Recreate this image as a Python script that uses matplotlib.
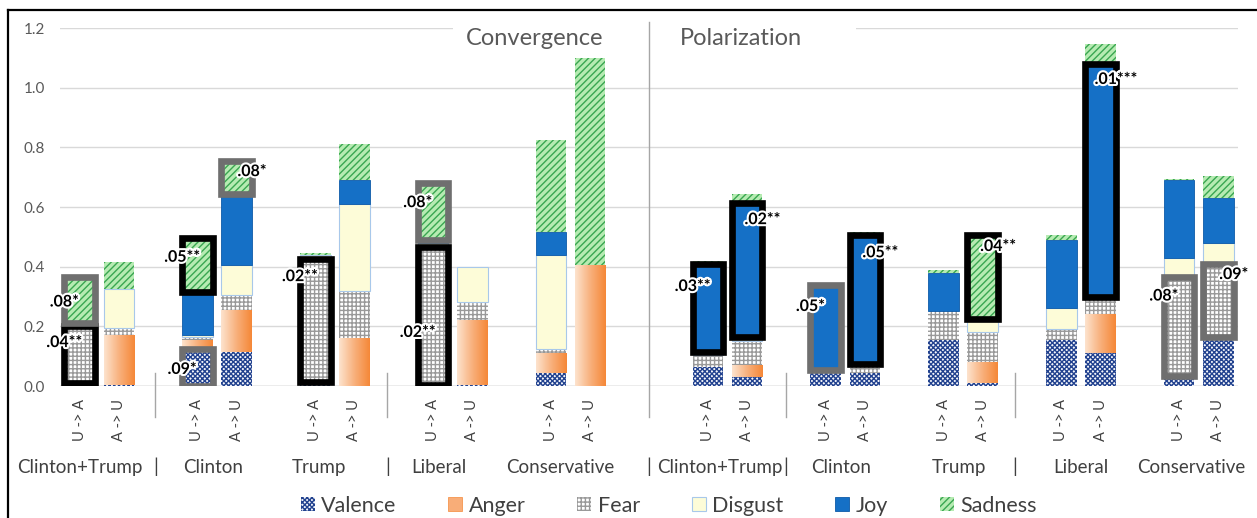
import matplotlib
matplotlib.use('Agg')
import matplotlib.pyplot as plt
import matplotlib.patheffects as pe
from matplotlib.patches import Rectangle, Patch
from matplotlib.lines import Line2D
from matplotlib.colors import LinearSegmentedColormap
import numpy as np

plt.rcParams['font.family'] = ['Lato', 'DejaVu Sans']
plt.rcParams['hatch.linewidth'] = 1.0

emotions = ['Valence', 'Anger', 'Fear', 'Disgust', 'Joy', 'Sadness']
groups = ['Clinton+Trump', 'Clinton', 'Trump', 'Liberal', 'Conservative',
          'Clinton+Trump', 'Clinton', 'Trump', 'Liberal', 'Conservative']
directions = ['U -> A', 'A -> U']
sections = ['Convergence', 'Polarization']

# segment heights per bar (U->A, A->U for each group; 10 convergence then 10 polarization)
valence = [0.010, 0.005, 0.125, 0.115, 0.010, 0.000, 0.005, 0.005, 0.045, 0.000,
           0.065, 0.030, 0.055, 0.045, 0.155, 0.010, 0.155, 0.110, 0.035, 0.165]
anger = [0.000, 0.165, 0.030, 0.140, 0.005, 0.160, 0.000, 0.215, 0.065, 0.405,
         0.000, 0.040, 0.000, 0.000, 0.000, 0.070, 0.000, 0.130, 0.000, 0.000]
fear = [0.190, 0.025, 0.010, 0.050, 0.410, 0.160, 0.460, 0.060, 0.015, 0.000,
        0.040, 0.080, 0.000, 0.025, 0.095, 0.100, 0.035, 0.060, 0.330, 0.245]
disgust = [0.005, 0.130, 0.005, 0.100, 0.015, 0.290, 0.015, 0.120, 0.315, 0.000,
           0.010, 0.015, 0.000, 0.005, 0.000, 0.045, 0.070, 0.000, 0.065, 0.070]
joy = [0.005, 0.000, 0.145, 0.240, 0.000, 0.080, 0.010, 0.000, 0.075, 0.000,
       0.295, 0.450, 0.285, 0.430, 0.130, 0.000, 0.230, 0.780, 0.260, 0.150]
sadness = [0.155, 0.090, 0.180, 0.110, 0.005, 0.120, 0.190, 0.000, 0.310, 0.695,
           0.010, 0.030, 0.000, 0.010, 0.010, 0.280, 0.015, 0.065, 0.005, 0.075]

# significant segments: (bar, emotion, p-value label, frame, label height)
sig_bar = [0, 0, 2, 2, 3, 4, 6, 6, 10, 11, 12, 13, 15, 17, 18, 19]
sig_emotion = ['Fear', 'Sadness', 'Sadness', 'Valence', 'Sadness', 'Fear', 'Fear', 'Sadness',
               'Joy', 'Joy', 'Joy', 'Joy', 'Sadness', 'Joy', 'Fear', 'Fear']
sig_text = ['.04**', '.08*', '.05**', '.09*', '.08*', '.02**', '.02**', '.08*',
            '.03**', '.02**', '.05*', '.05**', '.04**', '.01***', '.08*', '.09*']
sig_frame = ['black', 'gray', 'black', 'gray', 'gray', 'black', 'black', 'gray',
             'black', 'black', 'gray', 'black', 'black', 'black', 'gray', 'gray']
sig_label_y = [0.144, 0.280, 0.430, 0.054, 0.717, 0.365, 0.178, 0.613,
               0.332, 0.556, 0.265, 0.445, 0.466, 1.026, 0.300, 0.372]

series = dict(zip(emotions, [valence, anger, fear, disgust, joy, sadness]))

# bar slots: two bars per group, one empty slot between groups, two between sections
pair_start = np.array([0, 3, 6, 9, 12, 16, 19, 22, 25, 28])
xpos = np.ravel(np.column_stack([pair_start, pair_start + 1]))
width = 0.78
separators = [1.93, 7.84, 14.5, 17.98, 23.82]
label_shift = [-0.5, -0.1, -0.4, -0.35, -0.25, -0.2, -0.1, -0.1, 0.0, -0.2]

styles = {
    'Valence': dict(facecolor='#f4f6fb', edgecolor='#22428f', hatch='xxxxxxx', linewidth=0),
    'Fear': dict(facecolor='#ffffff', edgecolor='#999999', hatch='++++', linewidth=0),
    'Disgust': dict(facecolor='#fdfcd8', edgecolor='#a8c8ea', linewidth=0.8),
    'Joy': dict(facecolor='#1570c6', edgecolor='#0d5aa8', linewidth=0.6),
    'Sadness': dict(facecolor='#b6ebb2', edgecolor='#39a651', hatch='/////', linewidth=0),
}
anger_cmap = LinearSegmentedColormap.from_list('anger', ['#fde3cd', '#f8b07c', '#f58838'])
grad = np.linspace(0, 1, 64).reshape(1, -1)

fig = plt.figure(figsize=(12.57, 5.18), dpi=100)
ax = fig.add_axes([0.0477, 0.2548, 0.9372, 0.6911])

bottoms = np.zeros(len(xpos))
seg_span = {}
for emo in emotions:
    vals = np.array(series[emo])
    for i, (x, v) in enumerate(zip(xpos, vals)):
        if v <= 0:
            continue
        b = bottoms[i]
        seg_span[(i, emo)] = (b, v)
        if emo == 'Anger':
            ax.imshow(grad, extent=(x - width / 2, x + width / 2, b, b + v),
                      cmap=anger_cmap, aspect='auto', zorder=2, interpolation='bilinear')
        else:
            ax.bar(x, v, width, bottom=b, zorder=2, **styles[emo])
    bottoms += vals

# frames and p-value labels on the significant segments
for i, emo, txt, frame, ly in zip(sig_bar, sig_emotion, sig_text, sig_frame, sig_label_y):
    b, v = seg_span[(i, emo)]
    x = xpos[i]
    color = '#000000' if frame == 'black' else '#6f6f6f'
    ax.add_patch(Rectangle((x - width / 2, b), width, v, fill=False, edgecolor=color,
                           linewidth=4.8, joinstyle='miter', zorder=4))
    lx = x - width / 2 if i % 2 == 0 else x + width / 2
    ax.text(lx, ly, txt, ha='center', va='center', fontsize=11.5, fontweight='bold',
            color='black', zorder=6,
            path_effects=[pe.withStroke(linewidth=3, foreground='white')])

ax.set_xlim(-0.5, 29.5)
ax.set_ylim(0, 1.2)
ax.set_yticks(np.arange(0, 1.21, 0.2))
ax.set_yticklabels([f'{t:.1f}' for t in np.arange(0, 1.21, 0.2)])
ax.set_xticks(xpos)
ax.set_xticklabels(directions * 10, rotation=90)
ax.tick_params(axis='y', length=0, pad=11, labelsize=11, labelcolor='#595959')
ax.tick_params(axis='x', length=0, pad=9, labelsize=10.5, labelcolor='#404040')
ax.grid(axis='y', color='#d9d9d9', linewidth=1, zorder=0)
ax.set_axisbelow(True)
for s in ax.spines.values():
    s.set_visible(False)
ax.axhline(0, color='#bfbfbf', linewidth=1, zorder=1)

# section titles on white boxes over the top gridline
ax.add_patch(Rectangle((9.5, 1.16), 10.28, 0.08, facecolor='white', edgecolor='none',
                       zorder=1.5, clip_on=False))
ax.text(11.6, 1.165, sections[0], ha='center', va='center', fontsize=17, color='#595959', zorder=3)
ax.text(16.85, 1.165, sections[1], ha='center', va='center', fontsize=17, color='#595959', zorder=3)

# group separators
for k, sx in enumerate(separators):
    top = 1.22 if k == 2 else 0.045
    ax.plot([sx, sx], [top, -0.105], color='#a6a6a6', linewidth=1, clip_on=False, zorder=3)
    ax.text(sx, -0.272, '|', ha='center', va='center', fontsize=14, color='#404040', clip_on=False)

for g, p, s in zip(groups, pair_start, label_shift):
    ax.text(p + 0.5 + s, -0.272, g, ha='center', va='center', fontsize=13.5,
            color='#404040', clip_on=False)

handles = [Patch(**styles['Valence']),
           Patch(facecolor='#f8ad78', edgecolor='#f58838', linewidth=0.5),
           Patch(**styles['Fear']),
           Patch(**styles['Disgust']),
           Patch(**styles['Joy']),
           Patch(**styles['Sadness'])]
fig.legend(handles, emotions, loc='center', bbox_to_anchor=(0.532, 0.024), ncol=6,
           frameon=False, fontsize=15.5, handlelength=0.65, handleheight=0.65,
           handletextpad=0.3, columnspacing=2.4, labelcolor='#404040')

# outer frame (top and left edges)
fig.add_artist(Line2D([8 / 1257, 1], [1 - 10 / 518, 1 - 10 / 518], color='black', linewidth=1.6))
fig.add_artist(Line2D([8 / 1257, 8 / 1257], [0, 1 - 10 / 518], color='black', linewidth=1.6))

fig.savefig('out.png', dpi=100)
